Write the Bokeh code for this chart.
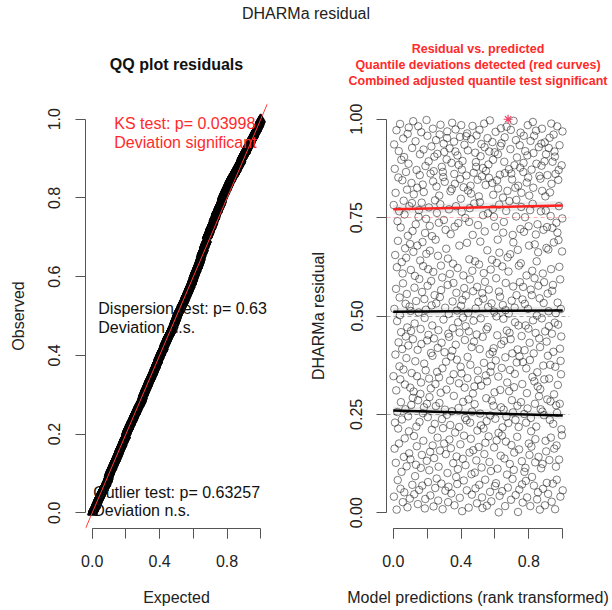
import numpy as np
from bokeh.plotting import figure
from bokeh.models import FixedTicker, NumeralTickFormatter, Slope, Div, Title
from bokeh.layouts import row, column
from bokeh.embed import file_html
from bokeh.resources import INLINE
from bokeh.core.properties import value

# ---------------- data ----------------
residuals = [
    .347, .782, .041, .936, .518, .163, .874, .229, .655, .402,
    .813, .127, .569, .311, .972, .008, .624, .487, .256, .741,
    .083, .691, .214, .852, .433, .919, .176, .766, .372, .547,
    .502, .988, .339, .061, .725, .281, .459, .897, .104, .637,
    .237, .416, .845, .608, .027, .583, .951, .364, .793, .142,
    .904, .052, .758, .189, .326, .672, .263, .531, .448, .866,
    .648, .393, .118, .556, .821, .471, .014, .963, .704, .245,
    .425, .887, .979, .207, .151, .779, .524, .036, .683, .318,
    .136, .513, .617, .462, .274, .838, .355, .787, .927, .071,
    .716, .292, .441, .995, .663, .308, .809, .195, .047, .572,
    .481, .602, .093, .385, .944, .733, .122, .538, .219, .871,
    .169, .347, .826, .679, .414, .022, .286, .982, .752, .509,
    .769, .058, .594, .231, .858, .911, .641, .302, .467, .114,
    .331, .967, .429, .788, .147, .561, .069, .688, .834, .253,
    .627, .183, .923, .815, .268, .379, .543, .495, .011, .711,
    .035, .881, .362, .516, .747, .658, .998, .132, .277, .438,
    .958, .577, .243, .078, .619, .452, .893, .776, .341, .108,
    .294, .729, .666, .155, .044, .862, .316, .406, .589, .931,
    .527, .211, .703, .476, .399, .171, .976, .842, .612, .016,
    .868, .443, .139, .905, .553, .226, .794, .063, .327, .694,
    .271, .947, .532, .829, .087, .762, .358, .912, .191, .419,
    .653, .031, .464, .117, .737, .344, .806, .279, .961, .548,
    .158, .784, .986, .305, .628, .566, .074, .432, .879, .238,
    .598, .367, .009, .866, .215, .853, .491, .938, .744, .176,
    .917, .408, .841, .262, .521, .056, .719, .149, .384, .671,
    .313, .898, .249, .952, .969, .101, .579, .646, .027, .455,
    .066, .505, .771, .447, .186, .926, .607, .336, .223, .817,
    .708, .164, .397, .049, .889, .823, .258, .991, .412, .537,
    .469, .633, .126, .584, .352, .297, .943, .861, .019, .727,
    .836, .204, .918, .974, .427, .779, .091, .559, .143, .389,
    .514, .073, .908, .622, .111, .484, .736, .266, .884, .329,
    .218, .679, .458, .038, .955, .848, .174, .371, .798, .526,
    .985, .354, .765, .872, .004, .541, .894, .137, .496, .282,
    .603, .827, .082, .196, .571, .935, .318, .439, .241, .749,
    .121, .474, .552, .957, .857, .235, .057, .686, .964, .342,
    .396, .921, .819, .508, .288, .013, .461, .739, .644, .153,
    .774, .593, .229, .376, .831, .188, .811, .949, .098, .421,
    .046, .257, .615, .983, .706, .303, .563, .159, .488, .864,
    .435, .786, .321, .276, .102, .639, .915, .062, .519, .891,
    .879, .133, .959, .453, .024, .574, .209, .846, .361, .731,
    .338, .536, .167, .804, .631, .071, .973, .416, .789, .252,
    .689, .906, .494, .222, .323, .937, .115, .855, .039, .558,
    .012, .447, .876, .756, .544, .214, .609, .381, .989, .149,
    .929, .715, .587, .084, .178, .833, .349, .869, .291, .466,
    .233, .018, .334, .667, .952, .472, .761, .523, .885, .194,
    .567, .851, .918, .129, .403, .997, .053, .247, .358, .618,
    .106, .373, .029, .532, .285, .643, .838, .942, .409, .772,
    .897, .808, .272, .418, .752, .166, .511, .306, .916, .068,
    .727, .239, .968, .387, .075, .596, .499, .184, .635, .845,
    .451, .112, .694, .911, .824, .346, .203, .001, .562, .783,
    .661, .043, .859, .549, .312, .932, .145, .977, .268, .428,
    .939, .368, .196, .055, .626, .217, .528, .801, .712, .493,
    .262, .739, .437, .892, .138, .954, .863, .017, .395, .515,
    .584, .181, .767, .244, .981, .463, .097, .331, .818, .649,
    .064, 1.00, .228, .613, .506, .873, .309, .792, .457, .124,
    .363, .657, .924, .441, .973, .033, .862, .172, .539, .286,
    .847, .405, .086, .706, .255, .575, .687, .996, .109, .319,
    .153, .883, .521, .353, .484, .826, .236, .045, .947, .753,
    .795, .553, .382, .903, .193, .272, .415, .668, .002, .831,
    .476, .218, .628, .161, .059, .397, .934, .586, .877, .721,
    .966, .634, .281, .777, .813, .449, .131, .072, .327, .542,
    .026, .383, .574, .866, .889, .958, .714, .251, .104, .413,
    .531, .751, .919, .114, .476, .081, .229, .367, .603, .839,
    .304, .039, .908, .265, .985, .518, .852, .468, .728, .176,
    .679, .806, .147, .432, .388, .769, .017, .945, .567, .241,
    .207, .168, .872, .553, .091, .615, .345, .785, .993, .489,
    .826, .914, .405, .069, .958, .334, .596, .682, .277, .128,
    .187, .457, .707, .971, .219, .887, .639, .501, .034, .357,
    .733, .321, .052, .662, .577, .142, .929, .296, .443, .856,
    .545, .008, .421, .314, .849, .263, .766, .113, .938, .882,
    .494, .976, .818, .257, .124, .608, .061, .374, .719, .533,
    .248, .586, .339, .893, .941, .019, .461, .804, .183, .768,
    .911, .156, .673, .435, .076, .726, .288, .858, .557, .399,
    .048, .669, .512, .927, .474, .341, .134, .953, .236, .814,
    .376, .283, .754, .191, .619, .989, .836, .028, .455, .564,
    .724, .892, .074, .579, .226, .409, .961, .687, .301, .163,
    .918, .483, .905, .009, .371, .861, .507, .117, .273, .737,
    .171, .084, .254, .982, .712, .534, .325, .478, .846, .693,
    .871, .779, .135, .625, .934, .277, .417, .593, .041, .386,
    .518, .352, .448, .212, .883, .197, .664, .748, .969, .057,
]

quantile_levels = [0.25, 0.50, 0.75]
quantile_fit_left = [0.260, 0.511, 0.771]
quantile_fit_right = [0.247, 0.514, 0.781]
quantile_band_halfwidth = [0.010, 0.010, 0.011]
quantile_colors = ["black", "black", "#ff2020"]

main_title = "DHARMa residual"
qq_title = "QQ plot residuals"
res_title_lines = ["Residual vs. predicted",
                   "Quantile deviations detected (red curves)",
                   "Combined adjusted quantile test significant"]
ks_text = ["KS test: p= 0.03998", "Deviation  significant"]
disp_text = ["Dispersion test: p= 0.63", "Deviation  n.s."]
outlier_text = ["Outlier test: p= 0.63257", "Deviation  n.s."]

qq_x_ticks = [0.0, 0.4, 0.8]
all_x_ticks = [0.0, 0.2, 0.4, 0.6, 0.8, 1.0]
qq_y_ticks = [0.0, 0.2, 0.4, 0.6, 0.8, 1.0]
res_y_ticks = [0.0, 0.25, 0.5, 0.75, 1.0]

FONT = "Liberation Sans"
RED = "#ff2a2a"
AX = "#555555"
SPACER = "\u00a0"

# ---------------- derived ----------------
r = np.array(residuals, dtype=float)
n = len(r)
expected = (np.arange(1, n + 1) - 0.5) / n
observed = np.sort(r)
pred_rank = np.arange(1, n + 1) / n
is_out = (r >= 1.0) | (r <= 0.0)


def make_fig(border_left, border_right):
    p = figure(width=306, height=582, x_range=(-0.04, 1.04), y_range=(-0.04, 1.04),
               output_backend="svg", toolbar_location=None,
               min_border_left=border_left, min_border_right=border_right,
               min_border_top=75, min_border_bottom=82)
    p.outline_line_color = None
    p.grid.visible = False
    p.background_fill_color = "white"
    p.border_fill_color = "white"
    for ax in (p.xaxis[0], p.yaxis[0]):
        ax.bounds = (0, 1)
        ax.axis_line_color = AX
        ax.major_tick_line_color = AX
        ax.minor_tick_line_color = AX
        ax.major_tick_out = 10
        ax.major_tick_in = 0
        ax.minor_tick_out = 10
        ax.minor_tick_in = 0
        ax.major_label_text_font = FONT
        ax.major_label_text_font_size = "16px"
        ax.major_label_text_color = "#222222"
        ax.axis_label_text_font = FONT
        ax.axis_label_text_font_size = "16px"
        ax.axis_label_text_font_style = "normal"
        ax.axis_label_text_color = "#222222"
    p.xaxis[0].ticker = FixedTicker(ticks=qq_x_ticks, minor_ticks=all_x_ticks)
    p.xaxis[0].formatter = NumeralTickFormatter(format="0.0")
    p.xaxis[0].major_label_standoff = 16
    p.xaxis[0].axis_label_standoff = 19
    p.yaxis[0].major_label_orientation = "vertical"
    return p


def style_title(t, size, color):
    t.align = "center"
    t.text_font = FONT
    t.text_font_size = size
    t.text_font_style = "bold"
    t.text_color = color
    t.standoff = 0


def spacer(standoff):
    # invisible (white) title used only to push the real titles upward
    return Title(text=SPACER, align="center", text_font=FONT, text_font_size="12.5px",
                 text_color="white", standoff=standoff)


# ---------------- left: QQ plot ----------------
p1 = make_fig(85, 39)
p1.title.text = qq_title
style_title(p1.title, "16px", "#111111")
p1.add_layout(spacer(15), "above")
p1.xaxis[0].axis_label = "Expected"
p1.yaxis[0].axis_label = "Observed"
p1.yaxis[0].ticker = FixedTicker(ticks=qq_y_ticks, minor_ticks=[])
p1.yaxis[0].formatter = NumeralTickFormatter(format="0.0")
p1.yaxis[0].major_label_standoff = 15
p1.yaxis[0].axis_label_standoff = 19

p1.scatter(expected, observed, marker="triangle", size=9, fill_color=None,
           line_color="black", line_width=1.5)
p1.add_layout(Slope(gradient=1, y_intercept=0, line_color="#ff3a3a", line_width=1))

p1.text(x=[0.131, 0.131], y=[0.99, 0.941], text=ks_text, text_color=RED,
        text_font=value(FONT), text_font_size="16px", text_baseline="middle", text_align="left")
p1.text(x=[0.036, 0.036], y=[0.519, 0.471], text=disp_text, text_color="#111111",
        text_font=value(FONT), text_font_size="16px", text_baseline="middle", text_align="left")
p1.text(x=[0.006, 0.006], y=[0.051, 0.005], text=outlier_text, text_color="#111111",
        text_font=value(FONT), text_font_size="16px", text_baseline="middle", text_align="left")

# ---------------- right: residual vs predicted ----------------
p2 = make_fig(80, 43)
p2.title.text = res_title_lines[0]
style_title(p2.title, "12.5px", RED)
p2.add_layout(spacer(0), "above")
for line in [res_title_lines[2], res_title_lines[1]]:
    t = Title(text=line)
    style_title(t, "12.5px", RED)
    p2.add_layout(t, "above")
p2.xaxis[0].axis_label = "Model predictions (rank transformed)"
p2.yaxis[0].axis_label = "DHARMa residual"
p2.yaxis[0].ticker = FixedTicker(ticks=res_y_ticks, minor_ticks=[])
p2.yaxis[0].formatter = NumeralTickFormatter(format="0.00")
p2.yaxis[0].major_label_standoff = 14
p2.yaxis[0].axis_label_standoff = 21

p2.scatter(pred_rank[~is_out], r[~is_out], marker="circle", size=7.5, fill_color=None,
           line_color="black", line_alpha=0.5, line_width=1)
p2.scatter(pred_rank[is_out], np.clip(r[is_out], 0, 1), marker="asterisk", size=9,
           line_color="#ee4466", line_width=1.2)

p2.hspan(y=quantile_levels, line_color=quantile_colors, line_dash="4 3",
         line_width=0.8, line_alpha=0.45)
for lv, yl, yr, hw, c in zip(quantile_levels, quantile_fit_left, quantile_fit_right,
                             quantile_band_halfwidth, quantile_colors):
    p2.varea(x=[0, 1], y1=[yl - hw, yr - hw], y2=[yl + hw, yr + hw],
             fill_color="black", fill_alpha=0.08)
p2.segment(x0=[0] * 3, y0=quantile_fit_left, x1=[1] * 3, y1=quantile_fit_right,
           line_color=quantile_colors, line_width=2.5)

header = Div(text=main_title, width=612, height=28, margin=(0, 0, 0, 0),
             styles={"text-align": "center", "font-family": "'Liberation Sans', Arial, sans-serif",
                     "font-size": "16px", "line-height": "28px", "color": "#222222",
                     "width": "612px"})

layout = column(header, row(p1, p2))
open("out.html", "w").write(file_html(layout, INLINE))
